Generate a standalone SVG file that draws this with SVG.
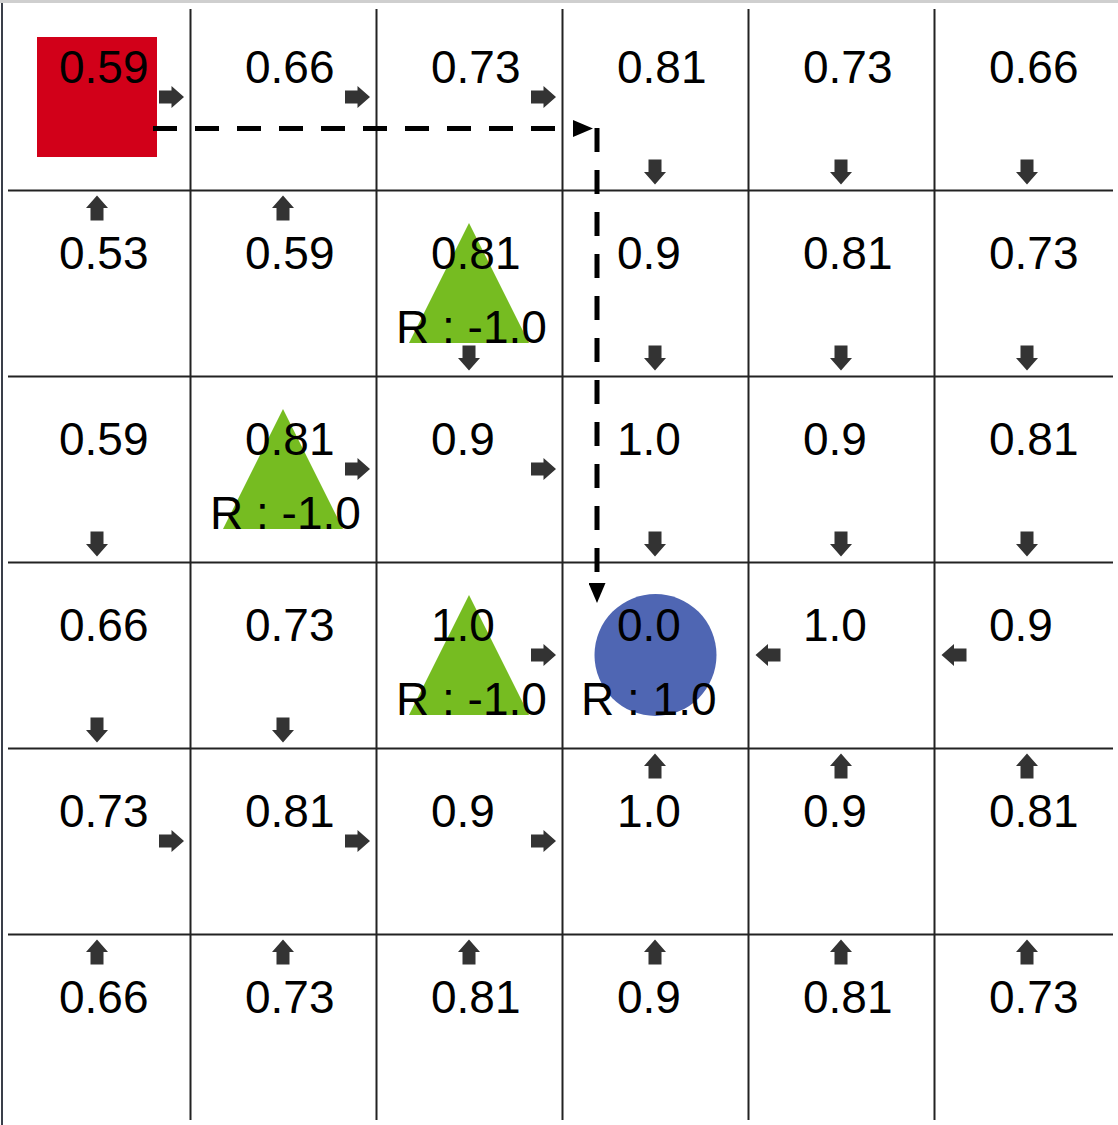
<svg xmlns="http://www.w3.org/2000/svg" width="1118" height="1125" viewBox="0 0 1118 1125">
<style>
.v{font-family:"Liberation Sans",Arial,sans-serif;font-size:46px;fill:#000}
.g{stroke:#222;stroke-width:2;fill:none}
.a{fill:#333}
.tri{fill:#76bc21}
.dash{stroke:#000;stroke-width:5;stroke-dasharray:24 18;fill:none}
</style>
<defs>
<path id="ar" d="M-12.5,-6.5 H0 V-11 L12.5,0 L0,11 V6.5 H-12.5 Z"/>
<marker id="mh" markerUnits="userSpaceOnUse" markerWidth="20" markerHeight="17" refX="0" refY="8.5" orient="auto" viewBox="0 0 20 17">
<path d="M0,0 L20,8.5 L0,17 Z" fill="#000"/>
</marker>
</defs>
<rect x="0" y="0" width="1118" height="1125" fill="#fff"/>
<rect x="0" y="0" width="1118" height="3" fill="#cfcfcf"/>
<line x1="2" y1="3" x2="2" y2="1125" stroke="#3a3f4a" stroke-width="2"/>
<g id="grid">
<line class="g" x1="190.5" y1="9" x2="190.5" y2="1120"/>
<line class="g" x1="376.5" y1="9" x2="376.5" y2="1120"/>
<line class="g" x1="562.5" y1="9" x2="562.5" y2="1120"/>
<line class="g" x1="748.5" y1="9" x2="748.5" y2="1120"/>
<line class="g" x1="934.5" y1="9" x2="934.5" y2="1120"/>
<line class="g" x1="8" y1="190.5" x2="1113" y2="190.5"/>
<line class="g" x1="8" y1="376.5" x2="1113" y2="376.5"/>
<line class="g" x1="8" y1="562.5" x2="1113" y2="562.5"/>
<line class="g" x1="8" y1="748.5" x2="1113" y2="748.5"/>
<line class="g" x1="8" y1="934.5" x2="1113" y2="934.5"/>
</g>
<!-- row 0 -->
<g id="c00"><rect x="37" y="37" width="120" height="120" fill="#d20019"/><text class="v" x="59" y="83">0.59</text><use href="#ar" class="a" transform="translate(171.5,97)"/></g>
<g id="c01"><text class="v" x="245" y="83">0.66</text><use href="#ar" class="a" transform="translate(357.5,97)"/></g>
<g id="c02"><text class="v" x="431" y="83">0.73</text><use href="#ar" class="a" transform="translate(543.5,97)"/></g>
<g id="c03"><text class="v" x="617" y="83">0.81</text><use href="#ar" class="a" transform="translate(655,172) rotate(90)"/></g>
<g id="c04"><text class="v" x="803" y="83">0.73</text><use href="#ar" class="a" transform="translate(841,172) rotate(90)"/></g>
<g id="c05"><text class="v" x="989" y="83">0.66</text><use href="#ar" class="a" transform="translate(1027,172) rotate(90)"/></g>
<!-- row 1 -->
<g id="c10"><text class="v" x="59" y="269">0.53</text><use href="#ar" class="a" transform="translate(97,208) rotate(-90)"/></g>
<g id="c11"><text class="v" x="245" y="269">0.59</text><use href="#ar" class="a" transform="translate(283,208) rotate(-90)"/></g>
<g id="c12"><polygon class="tri" points="469,223 529,343 409,343"/><text class="v" x="431" y="269">0.81</text><text class="v" x="396" y="343">R : -1.0</text><use href="#ar" class="a" transform="translate(469,358) rotate(90)"/></g>
<g id="c13"><text class="v" x="617" y="269">0.9</text><use href="#ar" class="a" transform="translate(655,358) rotate(90)"/></g>
<g id="c14"><text class="v" x="803" y="269">0.81</text><use href="#ar" class="a" transform="translate(841,358) rotate(90)"/></g>
<g id="c15"><text class="v" x="989" y="269">0.73</text><use href="#ar" class="a" transform="translate(1027,358) rotate(90)"/></g>
<!-- row 2 -->
<g id="c20"><text class="v" x="59" y="455">0.59</text><use href="#ar" class="a" transform="translate(97,544) rotate(90)"/></g>
<g id="c21"><polygon class="tri" points="283,409 343,529 223,529"/><text class="v" x="245" y="455">0.81</text><text class="v" x="210" y="529">R : -1.0</text><use href="#ar" class="a" transform="translate(357.5,469)"/></g>
<g id="c22"><text class="v" x="431" y="455">0.9</text><use href="#ar" class="a" transform="translate(543.5,469)"/></g>
<g id="c23"><text class="v" x="617" y="455">1.0</text><use href="#ar" class="a" transform="translate(655,544) rotate(90)"/></g>
<g id="c24"><text class="v" x="803" y="455">0.9</text><use href="#ar" class="a" transform="translate(841,544) rotate(90)"/></g>
<g id="c25"><text class="v" x="989" y="455">0.81</text><use href="#ar" class="a" transform="translate(1027,544) rotate(90)"/></g>
<!-- row 3 -->
<g id="c30"><text class="v" x="59" y="641">0.66</text><use href="#ar" class="a" transform="translate(97,730) rotate(90)"/></g>
<g id="c31"><text class="v" x="245" y="641">0.73</text><use href="#ar" class="a" transform="translate(283,730) rotate(90)"/></g>
<g id="c32"><polygon class="tri" points="469,595 529,715 409,715"/><text class="v" x="431" y="641">1.0</text><text class="v" x="396" y="715">R : -1.0</text><use href="#ar" class="a" transform="translate(543.5,655)"/></g>
<g id="c33"><circle cx="655.5" cy="655" r="61" fill="#4f66b3"/><text class="v" x="617" y="641">0.0</text><text class="v" x="581" y="715">R : 1.0</text></g>
<g id="c34"><text class="v" x="803" y="641">1.0</text><use href="#ar" class="a" transform="translate(768,655) rotate(180)"/></g>
<g id="c35"><text class="v" x="989" y="641">0.9</text><use href="#ar" class="a" transform="translate(954,655) rotate(180)"/></g>
<!-- row 4 -->
<g id="c40"><text class="v" x="59" y="827">0.73</text><use href="#ar" class="a" transform="translate(171.5,841)"/></g>
<g id="c41"><text class="v" x="245" y="827">0.81</text><use href="#ar" class="a" transform="translate(357.5,841)"/></g>
<g id="c42"><text class="v" x="431" y="827">0.9</text><use href="#ar" class="a" transform="translate(543.5,841)"/></g>
<g id="c43"><text class="v" x="617" y="827">1.0</text><use href="#ar" class="a" transform="translate(655,766) rotate(-90)"/></g>
<g id="c44"><text class="v" x="803" y="827">0.9</text><use href="#ar" class="a" transform="translate(841,766) rotate(-90)"/></g>
<g id="c45"><text class="v" x="989" y="827">0.81</text><use href="#ar" class="a" transform="translate(1027,766) rotate(-90)"/></g>
<!-- row 5 -->
<g id="c50"><text class="v" x="59" y="1013">0.66</text><use href="#ar" class="a" transform="translate(97,952) rotate(-90)"/></g>
<g id="c51"><text class="v" x="245" y="1013">0.73</text><use href="#ar" class="a" transform="translate(283,952) rotate(-90)"/></g>
<g id="c52"><text class="v" x="431" y="1013">0.81</text><use href="#ar" class="a" transform="translate(469,952) rotate(-90)"/></g>
<g id="c53"><text class="v" x="617" y="1013">0.9</text><use href="#ar" class="a" transform="translate(655,952) rotate(-90)"/></g>
<g id="c54"><text class="v" x="803" y="1013">0.81</text><use href="#ar" class="a" transform="translate(841,952) rotate(-90)"/></g>
<g id="c55"><text class="v" x="989" y="1013">0.73</text><use href="#ar" class="a" transform="translate(1027,952) rotate(-90)"/></g>
<g id="connectors">
<line class="dash" x1="153" y1="128.5" x2="573" y2="128.5" marker-end="url(#mh)"/>
<line class="dash" x1="597" y1="128" x2="597" y2="583" marker-end="url(#mh)"/>
</g>
</svg>
